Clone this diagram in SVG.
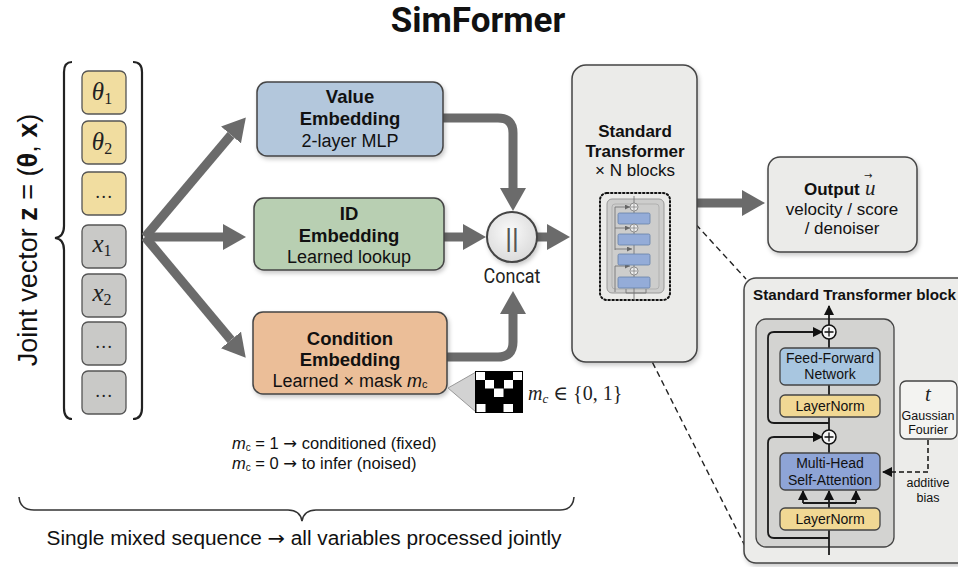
<svg xmlns="http://www.w3.org/2000/svg" width="958" height="567" viewBox="0 0 958 567">
<style>
.sans{font-family:"Liberation Sans",Arial,sans-serif;fill:#111}
.b{font-weight:bold}
.arr{font-family:"DejaVu Sans",sans-serif}
.math{font-family:"Liberation Serif","DejaVu Serif",serif;font-style:italic;fill:#222}
.box{stroke:#444;stroke-width:1.5}
.cell{stroke:#555;stroke-width:1.3}
.thick{fill:none;stroke:#6b6b6b;stroke-width:9}
.thin{fill:none;stroke:#1a1a1a;stroke-width:1.8}
.dash{fill:none;stroke:#222;stroke-width:1.4;stroke-dasharray:6 4}
</style>
<defs>
<marker id="big" markerUnits="userSpaceOnUse" markerWidth="24" markerHeight="26" refX="0" refY="13" orient="auto" viewBox="0 0 24 26">
<path d="M0,0 L23,13 L0,26 z" fill="#6b6b6b"/>
</marker>
<marker id="sm" markerUnits="userSpaceOnUse" markerWidth="10" markerHeight="10" refX="9" refY="5" orient="auto" viewBox="0 0 10 10">
<path d="M0,0 L10,5 L0,10 z" fill="#111"/>
</marker>
<marker id="tiny" markerUnits="userSpaceOnUse" markerWidth="5" markerHeight="5" refX="5" refY="2.5" orient="auto" viewBox="0 0 5 5">
<path d="M0,0 L5,2.5 L0,5 z" fill="#666"/>
</marker>
<filter id="sh" x="-10%" y="-10%" width="125%" height="130%">
<feDropShadow dx="1.5" dy="2.5" stdDeviation="2" flood-color="#000" flood-opacity="0.22"/>
</filter>
<radialGradient id="cg" cx="45%" cy="40%" r="65%">
<stop offset="0" stop-color="#fafafa"/>
<stop offset="1" stop-color="#d8d8d8"/>
</radialGradient>
</defs>

<rect width="958" height="567" fill="#ffffff"/>

<text x="478" y="32" text-anchor="middle" font-family="Roboto,'Liberation Sans',sans-serif" font-weight="bold" font-size="35" fill="#111">SimFormer</text>

<g id="joint-vector">
<text class="sans" font-size="27" transform="translate(37,240) rotate(-90)" text-anchor="middle">Joint vector <tspan class="b">z</tspan> = (<tspan class="b">θ</tspan>, <tspan class="b">x</tspan>)</text>
<path d="M72,62 Q64,62 64,72 V226 Q64,237 55,238 Q64,239 64,250 V408 Q64,419 72,419" fill="none" stroke="#222" stroke-width="2.2"/>
<path d="M133,62 Q142,62 142,72 V408 Q142,419 133,419" fill="none" stroke="#222" stroke-width="2.2"/>
<rect class="cell" x="82" y="71" width="44" height="43" rx="6" fill="#f1dda0"/>
<rect class="cell" x="82" y="121" width="44" height="43" rx="6" fill="#f1dda0"/>
<rect class="cell" x="82" y="172" width="44" height="43" rx="6" fill="#f1dda0"/>
<rect class="cell" x="82" y="225" width="44" height="43" rx="6" fill="#c9c9c7"/>
<rect class="cell" x="82" y="274" width="44" height="43" rx="6" fill="#c9c9c7"/>
<rect class="cell" x="82" y="322" width="44" height="43" rx="6" fill="#c9c9c7"/>
<rect class="cell" x="82" y="371" width="44" height="43" rx="6" fill="#c9c9c7"/>
<text class="math" x="102" y="100" font-size="25" text-anchor="middle">θ<tspan font-style="normal" font-size="16" dy="4">1</tspan></text>
<text class="math" x="102" y="150" font-size="25" text-anchor="middle">θ<tspan font-style="normal" font-size="16" dy="4">2</tspan></text>
<text class="math" x="104" y="198" font-size="18" font-style="normal" text-anchor="middle">…</text>
<text class="math" x="102" y="252" font-size="25" text-anchor="middle">x<tspan font-style="normal" font-size="16" dy="4">1</tspan></text>
<text class="math" x="102" y="301" font-size="25" text-anchor="middle">x<tspan font-style="normal" font-size="16" dy="4">2</tspan></text>
<text class="math" x="104" y="348" font-size="18" font-style="normal" text-anchor="middle">…</text>
<text class="math" x="104" y="397" font-size="18" font-style="normal" text-anchor="middle">…</text>
</g>

<g id="connectors">
<line class="thick" x1="145" y1="237" x2="231" y2="135" marker-end="url(#big)"/>
<line class="thick" x1="145" y1="237" x2="223" y2="237" marker-end="url(#big)"/>
<line class="thick" x1="145" y1="237" x2="231" y2="340" marker-end="url(#big)"/>
<path class="thick" d="M443,118 H498 Q513,118 513,133 V188" marker-end="url(#big)"/>
<path class="thick" d="M444,237 H463" marker-end="url(#big)"/>
<path class="thick" d="M447,357 H498 Q513,357 513,342 V314" marker-end="url(#big)"/>
<path class="thick" d="M537,237 H547" marker-end="url(#big)"/>
<path class="thick" d="M697,203 H742" marker-end="url(#big)"/>
<line class="dash" x1="669" y1="195" x2="746" y2="279"/>
<line class="dash" x1="621" y1="300" x2="746" y2="548"/>
</g>

<g id="value-embedding">
<rect class="box" x="257" y="82" width="186" height="74" rx="10" fill="#b3c7dc" filter="url(#sh)"/>
<text class="sans b" x="350" y="103" font-size="18.5" text-anchor="middle">Value</text>
<text class="sans b" x="350" y="125" font-size="18.5" text-anchor="middle">Embedding</text>
<text class="sans" x="350" y="147" font-size="18" text-anchor="middle">2-layer MLP</text>
</g>

<g id="id-embedding">
<rect class="box" x="254" y="198" width="190" height="72" rx="10" fill="#b8cfb2" filter="url(#sh)"/>
<text class="sans b" x="349" y="220" font-size="18.5" text-anchor="middle">ID</text>
<text class="sans b" x="349" y="242" font-size="18.5" text-anchor="middle">Embedding</text>
<text class="sans" x="349" y="263" font-size="18" text-anchor="middle">Learned lookup</text>
</g>

<g id="condition-embedding">
<rect class="box" x="253" y="312" width="194" height="82" rx="10" fill="#ebbe98" filter="url(#sh)"/>
<text class="sans b" x="350" y="345" font-size="18.5" text-anchor="middle">Condition</text>
<text class="sans b" x="350" y="366" font-size="18.5" text-anchor="middle">Embedding</text>
<text class="sans" x="350" y="387" font-size="18" text-anchor="middle">Learned × mask <tspan font-style="italic">m</tspan><tspan font-size="11" dy="1">c</tspan></text>
</g>

<g id="mask">
<polygon points="476,372 476,412 448,388" fill="#d2d2d2" stroke="#999" stroke-width="1"/>
<rect x="475" y="371" width="48" height="42" fill="#000"/>
<g fill="#fff">
<rect x="476" y="372" width="9" height="8"/>
<rect x="513" y="372" width="9" height="8"/>
<rect x="485" y="380" width="9" height="8.5"/>
<rect x="504" y="380" width="9" height="8.5"/>
<rect x="494" y="388.5" width="9.5" height="8.5"/>
<rect x="476.5" y="404" width="9" height="8"/>
<rect x="503.5" y="404" width="9.5" height="8"/>
</g>
<text class="math" x="528" y="400" font-size="20">m<tspan font-size="13" dy="3">c</tspan><tspan font-style="normal" dy="-3"> ∈ {0, 1}</tspan></text>
</g>

<g id="concat">
<circle cx="512" cy="237" r="25" fill="url(#cg)" stroke="#444" stroke-width="2" filter="url(#sh)"/>
<text x="512" y="247" text-anchor="middle" font-family="'Liberation Sans',sans-serif" font-size="26" fill="#555">||</text>
<text x="512" y="283" text-anchor="middle" font-family="Roboto,'Liberation Sans',sans-serif" font-size="21" fill="#222" textLength="57" lengthAdjust="spacingAndGlyphs">Concat</text>
</g>

<g id="transformer">
<rect class="box" x="572" y="65" width="125" height="297" rx="14" fill="#ebebe9" filter="url(#sh)"/>
<text class="sans b" x="635" y="137" font-size="17" text-anchor="middle">Standard</text>
<text class="sans b" x="635" y="157" font-size="17" text-anchor="middle">Transformer</text>
<text class="sans" x="635" y="176" font-size="17" text-anchor="middle">× N blocks</text>
<rect x="600" y="193" width="70" height="107" rx="7" fill="none" stroke="#111" stroke-width="2" stroke-dasharray="1.5 2.5" stroke-linecap="round"/>
<rect x="607" y="199" width="57" height="94" rx="5" fill="#cdcdcc" stroke="#999" stroke-width="1"/>
<rect x="612" y="204" width="47" height="85" rx="3" fill="none" stroke="#aaa" stroke-width="0.8"/>
<line x1="634" y1="196" x2="634" y2="300" stroke="#777" stroke-width="0.9"/>
<g fill="none" stroke="#777" stroke-width="0.9">
<path d="M615,207 V250"/>
<path d="M615,207 H630" marker-end="url(#tiny)"/>
<path d="M615,228 H630" marker-end="url(#tiny)"/>
<path d="M615,249 H632" marker-end="url(#tiny)"/>
<path d="M615,266 V292"/>
<path d="M615,266 H630" marker-end="url(#tiny)"/>
<path d="M626,289 V293 H646 V289"/>
</g>
<g fill="#94acd8" stroke="#6680a8" stroke-width="0.8">
<rect x="618" y="213" width="32" height="11" rx="1.5"/>
<rect x="618" y="234" width="32" height="11" rx="1.5"/>
<rect x="618" y="254" width="32" height="11" rx="1.5"/>
<rect x="618" y="277" width="32" height="11" rx="1.5"/>
</g>
<g fill="#eee" stroke="#777" stroke-width="0.8">
<circle cx="634" cy="207" r="4"/>
<circle cx="634" cy="228" r="4"/>
<circle cx="634" cy="271" r="4"/>
</g>
<g stroke="#777" stroke-width="0.7">
<path d="M631,207 H637 M634,204 V210"/>
<path d="M631,228 H637 M634,225 V231"/>
<path d="M631,271 H637 M634,268 V274"/>
</g>
</g>

<g id="output">
<rect class="box" x="768" y="157" width="149" height="95" rx="12" fill="#ebebe9" filter="url(#sh)"/>
<text class="sans b" x="804" y="195" font-size="17">Output</text>
<text class="math" x="865" y="195" font-size="21">u</text>
<text class="arr" x="864" y="179" font-size="10" fill="#222">→</text>
<text class="sans" x="842" y="215" font-size="17" text-anchor="middle">velocity / score</text>
<text class="sans" x="842" y="234" font-size="17" text-anchor="middle">/ denoiser</text>
</g>

<g id="transformer-block-detail">
<rect class="box" x="744" y="278" width="240" height="285" rx="12" fill="#ececea" filter="url(#sh)"/>
<text class="sans b" x="753" y="300" font-size="15" textLength="203" lengthAdjust="spacingAndGlyphs">Standard Transformer block</text>
<rect x="756" y="319" width="138" height="228" rx="10" fill="#d3d3d1" stroke="#444" stroke-width="1.3"/>
<g class="thin">
<line x1="829" y1="325" x2="829" y2="306" marker-end="url(#sm)"/>
<line x1="829" y1="339" x2="829" y2="348"/>
<line x1="829" y1="385" x2="829" y2="395"/>
<line x1="829" y1="417" x2="829" y2="430"/>
<line x1="829" y1="444" x2="829" y2="453"/>
<line x1="829" y1="508" x2="829" y2="503"/>
<line x1="829" y1="555" x2="829" y2="530"/>
<path d="M829,423 H774 Q768,423 768,417 V338 Q768,332 774,332 H822" marker-end="url(#sm)"/>
<path d="M829,538 H774 Q768,538 768,532 V443 Q768,437 774,437 H822" marker-end="url(#sm)"/>
<path d="M803,503 H856"/>
<line x1="803" y1="503" x2="803" y2="491" marker-end="url(#sm)"/>
<line x1="829" y1="503" x2="829" y2="491" marker-end="url(#sm)"/>
<line x1="856" y1="503" x2="856" y2="491" marker-end="url(#sm)"/>
</g>
<circle cx="829" cy="332" r="7" fill="#f6f6f6" stroke="#111" stroke-width="1.5"/>
<path d="M824.5,332 H833.5 M829,327.5 V336.5" stroke="#111" stroke-width="1.3"/>
<circle cx="829" cy="437" r="7" fill="#f6f6f6" stroke="#111" stroke-width="1.5"/>
<path d="M824.5,437 H833.5 M829,432.5 V441.5" stroke="#111" stroke-width="1.3"/>
<rect x="780" y="348" width="100" height="37" rx="5" fill="#a8c6e0" stroke="#444" stroke-width="1.3"/>
<text class="sans" x="830" y="363" font-size="14" text-anchor="middle">Feed-Forward</text>
<text class="sans" x="830" y="379" font-size="14" text-anchor="middle">Network</text>
<rect x="780" y="395" width="100" height="22" rx="5" fill="#f1d894" stroke="#444" stroke-width="1.3"/>
<text class="sans" x="830" y="411" font-size="14" text-anchor="middle">LayerNorm</text>
<rect x="780" y="453" width="100" height="37" rx="5" fill="#8ea4d6" stroke="#444" stroke-width="1.3"/>
<text class="sans" x="830" y="468" font-size="14" text-anchor="middle">Multi-Head</text>
<text class="sans" x="830" y="485" font-size="14" text-anchor="middle">Self-Attention</text>
<rect x="780" y="508" width="100" height="22" rx="5" fill="#f1d894" stroke="#444" stroke-width="1.3"/>
<text class="sans" x="830" y="524" font-size="14" text-anchor="middle">LayerNorm</text>
<rect x="900" y="381" width="57" height="58" rx="6" fill="#f3f3f1" stroke="#444" stroke-width="1.3"/>
<text class="math" x="928" y="401" font-size="21" text-anchor="middle">t</text>
<text class="sans" x="928" y="420" font-size="12.5" text-anchor="middle">Gaussian</text>
<text class="sans" x="928" y="434" font-size="12.5" text-anchor="middle">Fourier</text>
<path d="M928,440 V472 H883" fill="none" stroke="#111" stroke-width="1.5" stroke-dasharray="5 3" marker-end="url(#sm)"/>
<text class="sans" x="928" y="487" font-size="12.5" text-anchor="middle">additive</text>
<text class="sans" x="928" y="502" font-size="12.5" text-anchor="middle">bias</text>
</g>

<g id="notes">
<text class="sans" x="232" y="449" font-size="16.5"><tspan font-style="italic">m</tspan><tspan font-size="10" dy="2">c</tspan><tspan dy="-2"> = 1 </tspan><tspan class="arr">→</tspan> conditioned (fixed)</text>
<text class="sans" x="232" y="469" font-size="16.5"><tspan font-style="italic">m</tspan><tspan font-size="10" dy="2">c</tspan><tspan dy="-2"> = 0 </tspan><tspan class="arr">→</tspan> to infer (noised)</text>
</g>

<g id="sequence-brace">
<path d="M19,497 Q20,510 34,510 H288 Q300,510 302,521 Q304,510 316,510 H560 Q573,510 574,497" fill="none" stroke="#333" stroke-width="1.6"/>
<text class="sans" x="304" y="545" font-size="19.5" text-anchor="middle" textLength="515" lengthAdjust="spacingAndGlyphs">Single mixed sequence <tspan class="arr">→</tspan> all variables processed jointly</text>
</g>
</svg>
